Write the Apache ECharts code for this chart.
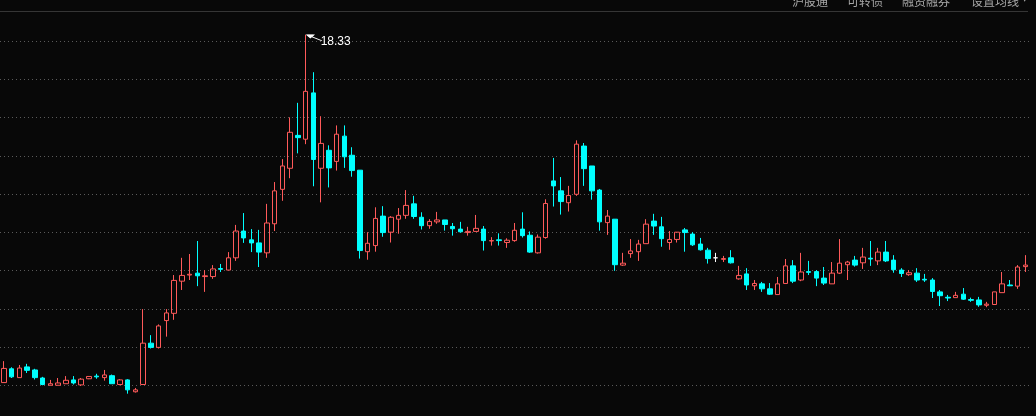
<!DOCTYPE html>
<html>
<head>
<meta charset="utf-8">
<script src="https://cdn.jsdelivr.net/npm/echarts@6/dist/echarts.min.js"></script>
<style>
html,body{margin:0;padding:0;background:#080808;}
#c{width:1036px;height:416px;}
</style>
</head>
<body>
<div id="c"></div>
<script>
const opens = [
 9.24, 9.60, 9.37, 9.65, 9.57, 9.36, 9.17, 9.17, 9.21, 9.31,
 9.18, 9.34, 9.41, 9.37, 9.42, 9.19, 9.31, 9.00, 9.19, 10.27,
 10.16, 10.86, 11.05, 11.89, 12.05, 12.10, 12.01, 12.01, 12.22, 12.18,
 12.50, 13.20, 12.97, 12.89, 12.63, 13.39, 14.29, 14.84, 15.70, 15.60,
 16.81, 14.84, 15.31, 15.02, 15.68, 15.18, 14.79, 12.66, 12.82, 13.59,
 13.17, 13.51, 13.61, 13.91, 13.56, 13.34, 13.44, 13.49, 13.32, 13.25,
 13.16, 13.19, 13.25, 12.94, 12.97, 12.90, 12.95, 13.25, 13.09, 12.63,
 13.03, 14.51, 14.25, 13.94, 14.16, 15.42, 14.90, 14.27, 13.42, 13.51,
 12.31, 12.61, 12.66, 12.87, 13.46, 13.31, 12.90, 12.98, 13.23, 13.12,
 12.86, 12.70, 12.50, 12.46, 12.50, 11.95, 12.08, 11.77, 11.82, 11.69,
 11.54, 11.83, 12.29, 11.92, 12.14, 12.14, 11.97, 11.82, 12.10, 12.32,
 12.44, 12.37, 12.49, 12.42, 12.65, 12.44, 12.18, 12.06, 12.10, 11.94,
 11.92, 11.61, 11.47, 11.46, 11.55, 11.41, 11.40, 11.26, 11.28, 11.59,
 11.79, 11.76, 12.27
];
const closes = [
 9.61, 9.39, 9.62, 9.56, 9.37, 9.19, 9.21, 9.23, 9.30, 9.23,
 9.33, 9.40, 9.39, 9.44, 9.21, 9.31, 9.05, 9.05, 10.27, 10.16,
 10.72, 11.06, 11.91, 12.04, 12.07, 12.03, 12.03, 12.21, 12.20, 12.50,
 13.20, 13.02, 12.89, 12.65, 13.41, 14.25, 14.90, 15.78, 15.64, 16.85,
 15.07, 15.49, 14.85, 15.73, 15.14, 14.78, 12.69, 12.88, 13.53, 13.16,
 13.56, 13.61, 13.87, 13.58, 13.34, 13.45, 13.49, 13.37, 13.26, 13.18,
 13.19, 13.27, 12.95, 12.95, 12.95, 12.96, 13.22, 13.08, 12.65, 13.04,
 13.92, 14.38, 13.97, 14.13, 15.47, 14.83, 14.25, 13.44, 13.59, 12.32,
 12.36, 12.68, 12.86, 13.38, 13.33, 13.00, 12.98, 13.17, 13.16, 12.84,
 12.71, 12.48, 12.50, 12.48, 12.37, 12.04, 11.79, 11.83, 11.69, 11.55,
 11.82, 12.29, 11.89, 12.13, 12.12, 11.97, 11.84, 12.10, 12.36, 12.39,
 12.31, 12.52, 12.47, 12.65, 12.42, 12.19, 12.09, 12.11, 11.92, 11.92,
 11.62, 11.51, 11.45, 11.52, 11.42, 11.39, 11.27, 11.29, 11.61, 11.82,
 11.77, 12.26, 12.31
];
const lows = [
 9.24, 9.36, 9.37, 9.49, 9.32, 9.17, 9.17, 9.17, 9.21, 9.19,
 9.15, 9.33, 9.34, 9.29, 9.21, 9.17, 8.95, 8.98, 9.19, 10.13,
 10.13, 10.44, 10.88, 11.66, 11.92, 11.76, 11.61, 11.95, 12.13, 12.18,
 12.42, 12.89, 12.65, 12.26, 12.50, 13.20, 13.99, 14.58, 15.23, 15.47,
 14.37, 13.95, 14.34, 14.78, 14.85, 14.62, 12.48, 12.45, 12.66, 13.05,
 12.90, 13.13, 13.52, 13.52, 13.24, 13.26, 13.39, 13.21, 13.08, 13.16,
 13.08, 13.19, 12.69, 12.82, 12.82, 12.76, 12.92, 13.03, 12.63, 12.61,
 13.00, 13.84, 13.63, 13.71, 14.12, 14.38, 14.02, 13.21, 13.10, 12.16,
 12.29, 12.50, 12.42, 12.87, 13.10, 12.79, 12.71, 12.90, 12.66, 12.81,
 12.69, 12.35, 12.39, 12.39, 12.35, 11.93, 11.66, 11.66, 11.61, 11.53,
 11.54, 11.82, 11.84, 11.89, 12.05, 11.76, 11.79, 11.82, 12.08, 11.92,
 12.27, 12.21, 12.29, 12.31, 12.39, 12.11, 12.00, 12.03, 11.87, 11.87,
 11.45, 11.24, 11.37, 11.46, 11.40, 11.35, 11.22, 11.21, 11.28, 11.59,
 11.76, 11.69, 12.13
];
const highs = [
 9.80, 9.64, 9.70, 9.73, 9.60, 9.39, 9.31, 9.36, 9.41, 9.41,
 9.36, 9.40, 9.47, 9.57, 9.45, 9.33, 9.33, 9.10, 11.16, 10.48,
 10.76, 11.16, 12.05, 12.50, 12.60, 12.94, 12.18, 12.31, 12.34, 12.65,
 13.36, 13.67, 13.25, 13.23, 13.91, 14.48, 15.08, 16.17, 16.55, 18.33,
 17.35, 16.20, 15.44, 15.96, 15.96, 15.39, 14.79, 13.17, 13.82, 13.85,
 13.59, 13.80, 14.27, 14.12, 13.69, 13.51, 13.70, 13.49, 13.41, 13.44,
 13.31, 13.62, 13.33, 13.04, 13.14, 13.01, 13.41, 13.69, 13.19, 13.11,
 14.03, 15.11, 14.61, 14.38, 15.57, 15.50, 14.90, 14.30, 13.75, 13.51,
 12.63, 12.99, 12.97, 13.51, 13.65, 13.57, 13.20, 13.17, 13.28, 13.17,
 13.02, 12.76, 12.63, 12.55, 12.70, 12.29, 12.23, 11.92, 11.87, 11.84,
 12.00, 12.47, 12.44, 12.63, 12.42, 12.18, 12.26, 12.39, 12.99, 12.42,
 12.55, 12.76, 12.94, 12.76, 12.94, 12.57, 12.23, 12.18, 12.23, 12.08,
 11.97, 11.66, 11.53, 11.61, 11.71, 11.46, 11.48, 11.35, 11.61, 12.13,
 11.92, 12.31, 12.57
];
const categories = opens.map((_, i) => 'K' + (i + 1));
const toolbarLabels = ['沪股通', '可转债', '融资融券', '设置均线'];

const UP = '#ff5a5a', DOWN = '#00ffff', DOJI = '#ffffff', BG = '#080808';

const kData = opens.map((o, i) => {
  const item = { value: [o, closes[i], lows[i], highs[i]] };
  if (o === closes[i]) {
    item.itemStyle = { color: DOJI, color0: DOJI, borderColor: DOJI, borderColor0: DOJI };
  }
  return item;
});
let maxIdx = 0;
highs.forEach((h, i) => { if (h > highs[maxIdx]) maxIdx = i; });

const PX_PER_UNIT = 38.27;
const yMax = 19.237, yMin = yMax - 416 / PX_PER_UNIT;

const chart = echarts.init(document.getElementById('c'), null, { renderer: 'canvas' });
const toolbarX = [792, 847, 902, 971];
chart.setOption({
  backgroundColor: BG,
  animation: false,
  grid: [
    { left: -0.57, top: 0, width: 1029.7, height: 416 },
    { left: 0, top: 41, width: 1030, height: 344.4 }
  ],
  xAxis: [
    { type: 'category', data: categories, gridIndex: 0, boundaryGap: true, show: false },
    { type: 'value', gridIndex: 1, show: false, min: 0, max: 1, splitLine: { show: false } }
  ],
  yAxis: [
    { type: 'value', gridIndex: 0, min: yMin, max: yMax, show: false, splitLine: { show: false } },
    { type: 'value', gridIndex: 1, min: 0, max: 9, interval: 1,
      axisLine: { show: false }, axisTick: { show: false }, axisLabel: { show: false },
      splitLine: { show: true, lineStyle: { color: '#5a5a5a', width: 1, type: [1, 3] } } }
  ],
  series: [{
    type: 'candlestick',
    xAxisIndex: 0, yAxisIndex: 0,
    data: kData,
    barWidth: 5,
    clip: false,
    itemStyle: { color: 'transparent', color0: DOWN, borderColor: UP, borderColor0: DOWN, borderWidth: 1 },
    markPoint: {
      symbol: 'path://M0,0 L7,0 L3.5,3 Z M5,2 L15,6',
      symbolSize: [15, 6],
      symbolOffset: [8.7, 3],
      itemStyle: { color: '#ffffff', borderColor: '#ffffff', borderWidth: 1 },
      label: { show: true, position: 'right', distance: 0, offset: [-2, 4],
        color: '#ffffff', fontSize: 12, fontFamily: 'Liberation Sans',
        formatter: p => Number(p.value).toFixed(2) },
      data: [{ coord: [categories[maxIdx], highs[maxIdx]], value: highs[maxIdx] }]
    }
  }],
  graphic: [
    { type: 'line', shape: { x1: 0, y1: 11.5, x2: 1028, y2: 11.5 }, style: { stroke: '#353535', lineWidth: 1 }, silent: true },
    ...toolbarLabels.map((t, i) => ({
      type: 'text', left: toolbarX[i], top: -5,
      style: { text: t, fill: '#a8a8a8', font: '12px "Noto Sans CJK SC"' }
    })),
    { type: 'text', left: 1022, top: -4, style: { text: '▼', fill: '#a8a8a8', font: '7px "DejaVu Sans"' } }
  ]
});
</script>
</body>
</html>
